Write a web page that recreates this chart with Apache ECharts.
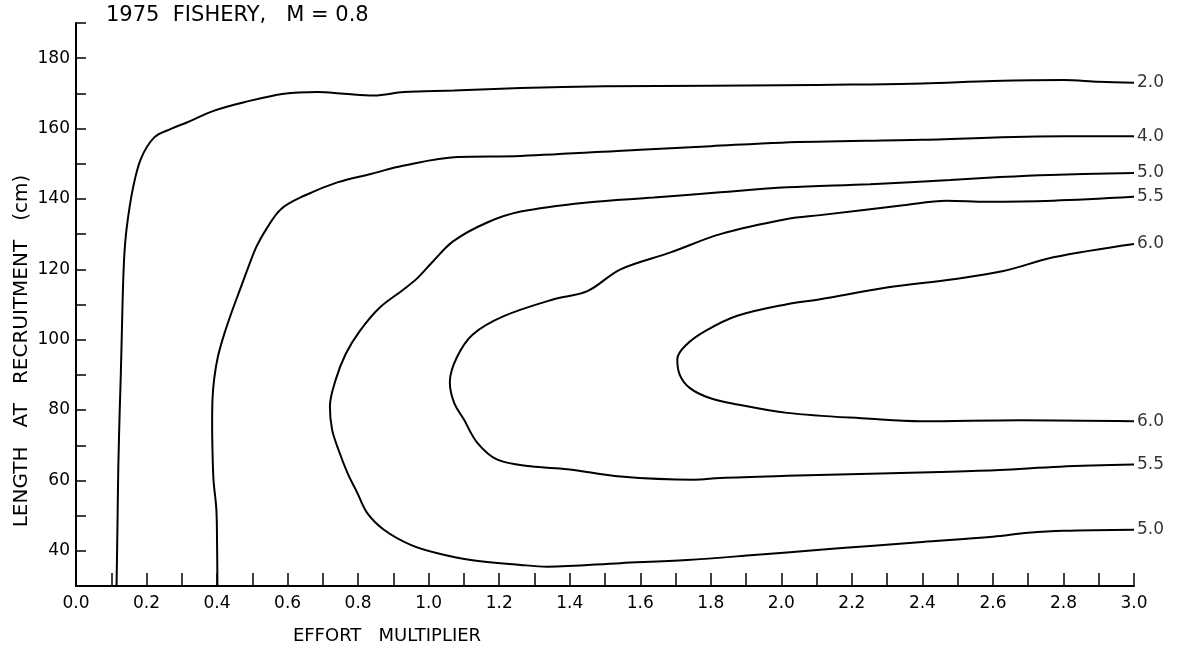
<!DOCTYPE html>
<html>
<head>
<meta charset="utf-8">
<script src="https://cdn.jsdelivr.net/npm/echarts@6/dist/echarts.min.js"></script>
<style>
html,body{margin:0;padding:0;background:#fff;}
#chart{width:1181px;height:650px;}
</style>
</head>
<body>
<div id="chart"></div>
<script>
// ---- Data (effort multiplier, length at recruitment cm) ----
const titleText = '1975  FISHERY,   M = 0.8';
const xAxisTitle = 'EFFORT   MULTIPLIER';
const yAxisTitle = 'LENGTH   AT   RECRUITMENT   (cm)';
const xTickLabels = ['0.0','0.2','0.4','0.6','0.8','1.0','1.2','1.4','1.6','1.8','2.0','2.2','2.4','2.6','2.8','3.0'];
const yTickLabels = [40, 60, 80, 100, 120, 140, 160, 180];
const levels = ['2.0', '4.0', '5.0', '5.5', '6.0'];

// contour 2.0 (bottom -> right end)
const contour20 = [[0.115,30],[0.118,50],[0.120,64],[0.124,80],[0.127,90],[0.130,102],[0.133,114],[0.137,124],[0.144,132],[0.161,142.8],[0.184,151.4],[0.222,157.5],[0.269,159.9],[0.316,161.8],[0.392,165.1],[0.477,167.5],[0.590,169.9],[0.685,170.4],[0.760,169.9],[0.845,169.4],[0.930,170.4],[1.072,170.8],[1.261,171.5],[1.5,172.0],[1.8,172.2],[2.0,172.3],[2.2,172.5],[2.4,172.8],[2.6,173.5],[2.8,173.8],[2.9,173.3],[3.0,173.0]];
// contour 4.0 (bottom -> right end)
const contour40 = [[0.401,30],[0.400,42],[0.398,51.7],[0.390,60],[0.387,68.7],[0.386,76],[0.387,83],[0.392,89],[0.402,95],[0.420,101.5],[0.442,108],[0.466,114.5],[0.490,121],[0.512,126.5],[0.540,131.5],[0.581,137.1],[0.647,140.9],[0.741,144.7],[0.836,147.1],[0.930,149.5],[1.081,151.9],[1.261,152.2],[1.6,154.0],[1.8,155.0],[2.0,156.0],[2.4,156.8],[2.8,157.8],[3.0,157.8]];
// contour 5.0 (top right end -> around -> bottom right end)
const contour50 = [[3.0,147.4],[2.762,146.8],[2.620,146.2],[2.479,145.4],[2.252,144.2],[2.016,143.3],[1.827,141.9],[1.638,140.4],[1.450,139.0],[1.261,136.4],[1.166,133.3],[1.070,128.0],[1.010,122.0],[0.968,117.5],[0.925,114.0],[0.860,109.0],[0.805,102.5],[0.765,96.0],[0.736,88.5],[0.720,81.0],[0.726,74.5],[0.745,68.5],[0.770,62.1],[0.798,56.4],[0.826,50.7],[0.873,46.0],[0.949,41.7],[1.025,39.3],[1.119,37.4],[1.261,36.0],[1.336,35.5],[1.544,36.5],[1.733,37.4],[1.922,38.8],[2.110,40.3],[2.252,41.4],[2.40,42.5],[2.60,44.0],[2.70,45.1],[2.80,45.7],[3.0,46.0]];
// contour 5.5
const contour55 = [[3.0,140.6],[2.771,139.5],[2.583,139.2],[2.469,139.5],[2.346,138.2],[2.110,135.4],[2.016,134.3],[1.827,130.0],[1.686,124.8],[1.544,120.0],[1.450,113.8],[1.355,111.5],[1.213,106.7],[1.125,101.5],[1.080,95.0],[1.060,88.0],[1.072,82.1],[1.100,77.3],[1.138,70.7],[1.195,65.9],[1.289,64.0],[1.393,63.2],[1.544,61.1],[1.752,60.2],[1.827,60.7],[2.016,61.3],[2.252,61.9],[2.479,62.5],[2.620,63.0],[2.790,63.9],[3.0,64.5]];
// contour 6.0
const contour60 = [[3.0,127.2],[2.771,123.4],[2.630,119.5],[2.488,117.2],[2.299,114.8],[2.110,111.5],[2.016,110.1],[1.875,106.8],[1.785,102.5],[1.730,98.5],[1.705,94.5],[1.712,90.0],[1.740,86.3],[1.795,83.5],[1.875,81.6],[2.016,79.2],[2.252,77.5],[2.394,76.8],[2.677,77.1],[3.0,76.8]];

const contours = [contour20, contour40, contour50, contour55, contour60];
const closedAtBothEnds = [false, false, true, true, true];

const FONT = 'DejaVu Sans';

const series = contours.map((c, i) => ({
  type: 'line',
  name: levels[i],
  data: c,
  smooth: 0.35,
  showSymbol: false,
  symbol: 'none',
  lineStyle: {color: '#000', width: 2},
  z: 3
}));

const labelPts = [];
contours.forEach((c, i) => {
  labelPts.push({value: c[c.length - 1], label: {formatter: levels[i]}});
  if (closedAtBothEnds[i]) labelPts.push({value: c[0], label: {formatter: levels[i]}});
});
series.push({
  type: 'scatter',
  data: labelPts,
  symbolSize: 0,
  clip: false,
  label: {show: true, position: 'right', distance: 3, color: '#000', fontFamily: FONT, fontSize: 17},
  z: 4
});

const chart = echarts.init(document.getElementById('chart'));
chart.setOption({
  backgroundColor: '#fff',
  animation: false,
  grid: {left: 76, right: 47, top: 23, bottom: 64},
  xAxis: {
    type: 'value', min: 0, max: 3, interval: 0.1,
    axisLine: {show: true, lineStyle: {color: '#000', width: 2}},
    axisTick: {show: true, inside: true, length: 13, lineStyle: {color: '#000', width: 1.5}},
    splitLine: {show: false},
    axisLabel: {
      color: '#000', fontFamily: FONT, fontSize: 17, margin: 9,
      formatter: v => { const s = v.toFixed(1); return xTickLabels.includes(s) ? s : ''; }
    }
  },
  yAxis: {
    type: 'value', min: 30, max: 190, interval: 10,
    axisLine: {show: true, lineStyle: {color: '#000', width: 2}},
    axisTick: {show: true, inside: true, length: 10, lineStyle: {color: '#000', width: 1.5}},
    splitLine: {show: false},
    axisLabel: {
      color: '#000', fontFamily: FONT, fontSize: 17, margin: 6,
      formatter: v => yTickLabels.includes(Math.round(v)) ? String(Math.round(v)) : ''
    }
  },
  graphic: [
    {type: 'text', left: 106, top: 5, style: {text: titleText, fontFamily: FONT, fontSize: 21, fill: '#000'}},
    {type: 'text', x: 387, y: 636, style: {text: xAxisTitle, fontFamily: FONT, fontSize: 18, fill: '#000', textAlign: 'center', textVerticalAlign: 'middle'}},
    {type: 'text', x: 22, y: 351, rotation: Math.PI / 2, style: {text: yAxisTitle, fontFamily: FONT, fontSize: 20, fill: '#000', textAlign: 'center', textVerticalAlign: 'middle'}}
  ],
  series: series
});
</script>
</body>
</html>
